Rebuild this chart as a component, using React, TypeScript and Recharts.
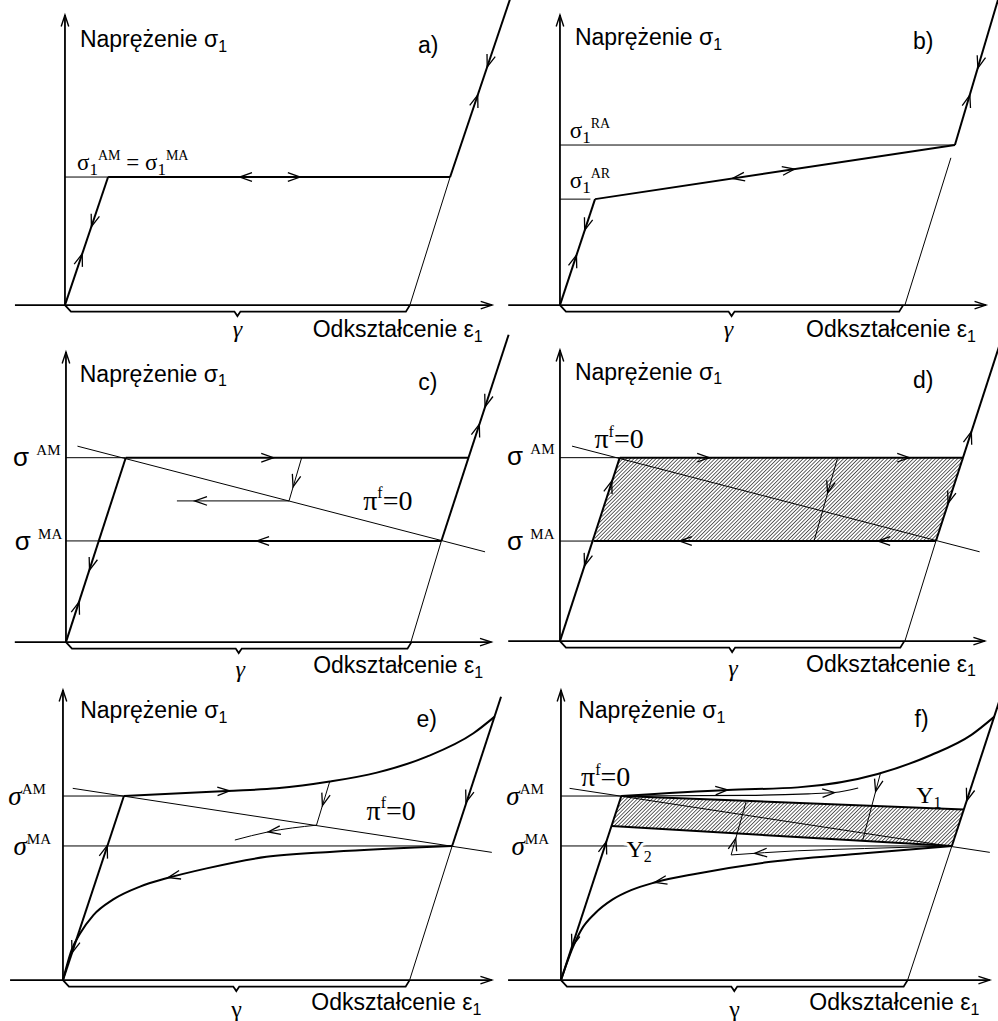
import React from "react";
import { ComposedChart, XAxis, YAxis, Line, Area, ReferenceLine, ReferenceDot } from "recharts";

// Strain on x (%, gamma = 6), stress on y (arbitrary units). Segments are [x0, y0, x1, y1].
type Seg = [number, number, number, number];
type Pt = { x: number; y: number };
type Part = { t: string; sub?: boolean; sup?: boolean; size?: number; font?: "sans" | "serif"; upright?: boolean };
type Label = {
  x: number;
  y: number;
  parts: Part[];
  font: "sans" | "serif";
  size: number;
  italic?: boolean;
  anchor?: "start" | "middle" | "end";
  halo?: boolean;
};

const W = 499;
const H = 340;
const X_DOMAIN: [number, number] = [-1.13, 7.55];
const Y_DOMAIN: [number, number] = [-1.09, 9.53];

const FONTS = {
  sans: '"Liberation Sans", Arial, sans-serif',
  serif: '"Liberation Serif", "Times New Roman", serif',
};

const pts = (arr: number[][]): Pt[] => arr.map(([x, y]) => ({ x, y }));

// ---- a) ----
const aAxes: Seg[] = [[-0.87, 0, 7.43, 0], [0, 0, 0, 9.06]];
const aThick: Seg[] = [[0, 0, 0.75, 4], [0.75, 4, 6.7, 4], [6.7, 4, 7.75, 9.6]];
const aThin: Seg[] = [[0, 4, 0.75, 4], [6.0, 0, 6.7, 4]];
const aArrows: Seg[] = [
  [0, 0, 0.3, 1.6], [0.75, 4, 0.46, 2.45],
  [6.7, 4, 3.04, 4], [0.75, 4, 4.09, 4],
  [6.7, 4, 7.18, 6.56], [7.75, 9.6, 7.345, 7.44],
];

// ---- b) ----
const bAxes: Seg[] = [[-0.9, 0, 7.41, 0], [0, 0, 0, 9.06]];
const bThick: Seg[] = [[0, 0, 0.61, 3.31], [0.61, 3.31, 6.87, 5.0], [6.87, 5.0, 7.63, 9.6]];
const bThin: Seg[] = [[0, 5.0, 6.87, 5.0], [0, 3.31, 0.53, 3.31], [6.0, 0, 6.8, 4.6]];
const bArrows: Seg[] = [
  [0, 0, 0.287, 1.56], [0.61, 3.31, 0.43, 2.34],
  [6.87, 5.0, 3.0, 3.955], [0.61, 3.31, 4.08, 4.247],
  [6.87, 5.0, 7.13, 6.56], [7.63, 9.6, 7.27, 7.4],
];

// ---- c) ----
const cAxes: Seg[] = [[-0.89, 0, 7.4, 0], [0, 0, 0, 9.06]];
const cThick: Seg[] = [[0, 0, 1.04, 5.76], [1.04, 5.76, 7.0, 5.76], [0.574, 3.16, 6.53, 3.16], [6.53, 3.16, 7.7, 9.6]];
const cThin: Seg[] = [
  [0, 5.76, 1.04, 5.76], [0, 3.16, 0.574, 3.16], [6.0, 0, 6.53, 3.16],
  [0.2, 6.12, 7.29, 2.82], [4.1, 5.76, 3.88, 4.41], [3.88, 4.41, 1.93, 4.41],
];
const cArrows: Seg[] = [
  [1.04, 5.76, 3.61, 5.76], [6.53, 3.16, 3.32, 3.16],
  [4.1, 5.76, 3.95, 4.85], [3.88, 4.41, 2.24, 4.41],
  [0, 0, 0.23, 1.26], [1.04, 5.76, 0.41, 2.25],
  [6.53, 3.16, 7.19, 6.8], [7.7, 9.6, 7.29, 7.35],
];

// ---- d) ----
const dAxes: Seg[] = [[-0.9, 0, 7.39, 0], [0, 0, 0, 9.09]];
const dThick: Seg[] = [[0, 0, 1.04, 5.73], [1.04, 5.73, 7.01, 5.73], [0.59, 3.125, 6.54, 3.125], [6.54, 3.125, 7.71, 9.6]];
const dThin: Seg[] = [
  [0, 5.73, 1.04, 5.73], [0, 3.125, 0.59, 3.125], [6.0, 0, 6.54, 3.125],
  [0.21, 6.09, 7.3, 2.79], [4.83, 5.73, 4.42, 3.125],
];
const dHatch = pts([[0.59, 3.125], [1.04, 5.73], [7.01, 5.73], [6.54, 3.125]]);
const dArrows: Seg[] = [
  [1.04, 5.73, 2.6, 5.73], [1.04, 5.73, 6.08, 5.73],
  [6.54, 3.125, 2.08, 3.125], [6.54, 3.125, 5.53, 3.125],
  [4.83, 5.73, 4.655, 4.62],
  [0, 0, 0.9, 5.0], [1.04, 5.73, 0.427, 2.35],
  [6.54, 3.125, 7.156, 6.54], [7.71, 9.6, 6.75, 4.3],
];

// ---- e) ----
const eAxes: Seg[] = [[-0.92, 0, 7.46, 0], [0, 0, 0, 9.06]];
const eThick: Seg[] = [[0, 0, 1.06, 5.75], [6.77, 4.19, 7.62, 8.85]];
const eThin: Seg[] = [
  [0, 5.75, 1.06, 5.75], [0, 4.19, 6.77, 4.19], [6.03, 0, 6.77, 4.19],
  [0.17, 5.99, 7.46, 3.99], [4.64, 6.2, 4.41, 4.84],
];
const eUpper = pts([[1.06, 5.75], [2.85, 5.91], [3.72, 5.99], [4.64, 6.2], [5.46, 6.48], [6.33, 6.98], [7.14, 7.71], [7.51, 8.23]]);
const eLower = pts([[0, 0], [0.15, 0.94], [0.3, 1.46], [0.53, 2.03], [0.875, 2.52], [1.34, 2.92], [1.8, 3.18], [2.5, 3.49], [3.54, 3.85], [4.7, 4.01], [6.77, 4.19]]);
const eReturn = pts([[2.99, 4.375], [3.57, 4.63], [4.41, 4.84]]);
const eArrows: Seg[] = [
  [2.3, 5.87, 2.9, 5.91], [7.62, 8.85, 7.01, 5.55], [2.5, 3.49, 1.83, 3.2],
  [0, 0, 0.77, 4.2], [1.06, 5.75, 0.157, 0.85],
  [4.64, 6.2, 4.513, 5.45], [4.41, 4.84, 3.57, 4.63],
];

// ---- f) ----
const fAxes: Seg[] = [[-0.92, 0, 7.46, 0], [0, 0, 0, 9.06]];
const fThick: Seg[] = [[0, 0, 1.05, 5.75], [6.8, 4.19, 7.64, 8.8], [1.05, 5.75, 7.01, 5.33], [0.88, 4.81, 6.8, 4.19]];
const fThin: Seg[] = [
  [0, 5.75, 1.05, 5.75], [0, 4.19, 6.8, 4.19], [6.03, 0, 6.8, 4.19],
  [0.15, 5.99, 7.46, 3.99], [5.56, 6.48, 5.25, 4.375], [2.96, 3.91, 3.22, 5.57],
];
const fHatch = pts([[0.88, 4.81], [1.05, 5.75], [7.01, 5.33], [6.8, 4.19]]);
const fUpper = pts([[1.05, 5.75], [2.9, 5.94], [4.12, 6.02], [5.51, 6.44], [6.44, 7.03], [7.14, 7.66], [7.54, 8.23]]);
const fLower = pts([[0, 0], [0.21, 1.04], [0.35, 1.56], [0.59, 2.08], [0.9, 2.52], [1.22, 2.81], [1.63, 3.05], [2.38, 3.33], [3.54, 3.67], [5.28, 3.96], [6.8, 4.19]]);
const fUpperThin = pts([[1.05, 5.75], [3.25, 5.77], [4.3, 5.82], [4.76, 5.86], [5.17, 6.0]]);
const fReturn = pts([[2.96, 3.91], [4.12, 4.04], [5.28, 4.11], [6.8, 4.19]]);
const fArrows: Seg[] = [
  [2.3, 5.88, 2.9, 5.94], [4.3, 5.82, 4.76, 5.86],
  [5.56, 6.48, 5.473, 5.89], [2.96, 3.91, 3.04, 4.43],
  [4.12, 4.04, 3.37, 3.96], [2.38, 3.33, 1.63, 3.05],
  [7.64, 8.8, 7.058, 5.6], [0, 0, 0.79, 4.33], [1.05, 5.75, 0.19, 1.04],
];

// ---- text ----
const nap = (x: number, y: number): Label => ({
  x, y, font: "sans", size: 23, parts: [{ t: "Naprężenie σ" }, { t: "1", sub: true, size: 16 }],
});
const odk = (x: number, y: number): Label => ({
  x, y, font: "sans", size: 23, parts: [{ t: "Odkształcenie ε" }, { t: "1", sub: true, size: 16 }],
});
const tag = (t: string, x: number, y: number): Label => ({ x, y, font: "sans", size: 23, parts: [{ t }] });
const gam = (x: number, y: number, italic: boolean): Label => ({
  x, y, font: "serif", size: 24, italic, anchor: "middle", parts: [{ t: "γ" }],
});
const sig1 = (x: number, y: number, sup: string): Label => ({
  x, y, font: "serif", size: 23,
  parts: [{ t: "σ" }, { t: "1", sub: true, size: 17 }, { t: sup, sup: true, size: 14 }],
});
const sigSans = (x: number, y: number, sup: string): Label => ({
  x, y, font: "sans", size: 26, parts: [{ t: "σ " }, { t: sup, sup: true, size: 15, font: "serif" }],
});
const sigItal = (x: number, y: number, sup: string): Label => ({
  x, y, font: "serif", size: 27, italic: true, parts: [{ t: "σ" }, { t: sup, sup: true, size: 15, upright: true }],
});
const piZero = (x: number, y: number): Label => ({
  x, y, font: "serif", size: 28, parts: [{ t: "π" }, { t: "f", sup: true, size: 16 }, { t: "=0" }],
});
const yLab = (x: number, y: number, n: string, halo = false): Label => ({
  x, y, font: "serif", size: 24, halo, parts: [{ t: "Y" }, { t: n, sub: true, size: 16 }],
});

const aLabels: Label[] = [
  nap(0.26, 8.06), tag("a)", 6.14, 7.88), odk(4.31, -1.0), gam(3.0, -1.0, true),
  {
    x: 0.21, y: 4.22, font: "serif", size: 23,
    parts: [
      { t: "σ" }, { t: "1", sub: true, size: 17 }, { t: "AM", sup: true, size: 14 },
      { t: " = " }, { t: "σ" }, { t: "1", sub: true, size: 17 }, { t: "MA", sup: true, size: 14 },
    ],
  },
];
const bLabels: Label[] = [
  nap(0.26, 8.12), tag("b)", 6.14, 8.0), odk(4.28, -1.0), gam(2.93, -1.0, true),
  sig1(0.17, 5.22, "RA"), sig1(0.17, 3.66, "AR"),
];
const cLabels: Label[] = [
  nap(0.24, 8.13), tag("c)", 6.13, 7.88), odk(4.3, -0.98), gam(3.03, -1.08, true),
  sigSans(-0.92, 5.5, "AM"), sigSans(-0.89, 2.87, "MA"), piZero(5.17, 4.13),
];
const dLabels: Label[] = [
  nap(0.26, 8.16), tag("d)", 6.14, 7.9), odk(4.28, -0.96), gam(3.01, -1.1, true),
  sigSans(-0.92, 5.5, "AM"), sigSans(-0.92, 2.84, "MA"), piZero(0.6, 6.02),
];
const eLabels: Label[] = [
  nap(0.3, 8.18), tag("e)", 6.15, 7.92), odk(4.32, -0.94), gam(3.02, -1.15, false),
  sigItal(-0.95, 5.47, "AM"), sigItal(-0.86, 3.9, "MA"), piZero(5.28, 5.0),
];
const fLabels: Label[] = [
  nap(0.3, 8.18), tag("f)", 6.15, 7.92), odk(4.32, -0.94), gam(3.02, -1.15, false),
  sigItal(-0.95, 5.47, "AM"), sigItal(-0.86, 3.9, "MA"), piZero(0.35, 6.05),
  yLab(6.18, 5.52, "1"), yLab(1.14, 3.85, "2", true),
];

// ---- drawing helpers ----
const seg = (s: Seg) => [{ x: s[0], y: s[1] }, { x: s[2], y: s[3] }];

// closed polygon -> rows of [low, high] for a ranged Area
const band = (poly: Pt[]) => {
  const xs = Array.from(new Set(poly.map((p) => p.x))).sort((a, b) => a - b);
  return xs.map((x) => {
    const ys: number[] = [];
    poly.forEach((p, i) => {
      const q = poly[(i + 1) % poly.length];
      const lo = Math.min(p.x, q.x);
      const hi = Math.max(p.x, q.x);
      if (hi > lo && x >= lo && x <= hi) ys.push(p.y + ((q.y - p.y) * (x - p.x)) / (q.x - p.x));
    });
    return { x, band: [Math.min(...ys), Math.max(...ys)] };
  });
};

const head = (x1: number, y1: number, x2: number, y2: number, len: number, ang: number) => {
  const l = Math.hypot(x2 - x1, y2 - y1) || 1;
  const ux = (x2 - x1) / l;
  const uy = (y2 - y1) / l;
  const c = Math.cos(ang);
  const s = Math.sin(ang);
  const ax = x2 - len * (ux * c - uy * s);
  const ay = y2 - len * (ux * s + uy * c);
  const bx = x2 - len * (ux * c + uy * s);
  const by = y2 - len * (-ux * s + uy * c);
  return `M${ax},${ay}L${x2},${y2}L${bx},${by}`;
};

const lineShape = (w: number) => (p: any) => (
  <line x1={p.x1} y1={p.y1} x2={p.x2} y2={p.y2} stroke="#000" strokeWidth={w} />
);

const axisShape = (p: any) => (
  <g>
    <line x1={p.x1} y1={p.y1} x2={p.x2} y2={p.y2} stroke="#000" strokeWidth={1.8} />
    <path d={head(p.x1, p.y1, p.x2, p.y2, 12, 0.32)} fill="none" stroke="#000" strokeWidth={1.4} />
  </g>
);

const arrowShape = (p: any) => (
  <path d={head(p.x1, p.y1, p.x2, p.y2, 13, 0.34)} fill="none" stroke="#000" strokeWidth={1.3} />
);

const braceShape = (p: any) => {
  const { x1, y1, x2 } = p;
  const mid = (x1 + x2) / 2;
  const d = `M${x1},${y1}L${x1 + 6},${y1 + 6.5}L${mid - 3},${y1 + 6.5}L${mid},${y1 + 11}L${mid + 3},${y1 + 6.5}L${x2 - 4},${y1 + 6.5}L${x2},${y1}`;
  return <path d={d} fill="none" stroke="#000" strokeWidth={1.8} />;
};

const RichText = ({ cx, cy, lab }: { cx: number; cy: number; lab: Label }) => {
  let shift = 0;
  const spans = lab.parts.map((p, i) => {
    const target = p.sub ? lab.size * 0.2 : p.sup ? -lab.size * 0.42 : 0;
    const dy = target - shift;
    shift = target;
    return (
      <tspan
        key={i}
        dy={dy}
        fontSize={p.size ?? lab.size}
        fontFamily={p.font ? FONTS[p.font] : undefined}
        fontStyle={p.upright ? "normal" : undefined}
      >
        {p.t}
      </tspan>
    );
  });
  return (
    <text
      x={cx}
      y={cy}
      fontFamily={FONTS[lab.font]}
      fontSize={lab.size}
      fontStyle={lab.italic ? "italic" : "normal"}
      textAnchor={lab.anchor ?? "start"}
      fill="#000"
      stroke={lab.halo ? "#fff" : "none"}
      strokeWidth={lab.halo ? 6 : 0}
      paintOrder="stroke"
      style={{ whiteSpace: "pre" }}
    >
      {spans}
    </text>
  );
};

type Curve = { data: Pt[]; width: number };
type PanelSpec = {
  left: number;
  top: number;
  axes: Seg[];
  thick: Seg[];
  thin: Seg[];
  arrows: Seg[];
  gamma: number;
  labels: Label[];
  curves?: Curve[];
  hatch?: Pt[];
};

const panels: PanelSpec[] = [
  { left: 0, top: 0, axes: aAxes, thick: aThick, thin: aThin, arrows: aArrows, gamma: 6.0, labels: aLabels },
  { left: 495, top: 0, axes: bAxes, thick: bThick, thin: bThin, arrows: bArrows, gamma: 5.97, labels: bLabels },
  { left: 1, top: 337, axes: cAxes, thick: cThick, thin: cThin, arrows: cArrows, gamma: 6.01, labels: cLabels },
  { left: 495, top: 336, axes: dAxes, thick: dThick, thin: dThin, arrows: dArrows, gamma: 5.99, labels: dLabels, hatch: dHatch },
  {
    left: -2, top: 675, axes: eAxes, thick: eThick, thin: eThin, arrows: eArrows, gamma: 6.03, labels: eLabels,
    curves: [{ data: eUpper, width: 2 }, { data: eLower, width: 2 }, { data: eReturn, width: 1 }],
  },
  {
    left: 496, top: 675, axes: fAxes, thick: fThick, thin: fThin, arrows: fArrows, gamma: 6.03, labels: fLabels, hatch: fHatch,
    curves: [{ data: fUpper, width: 2 }, { data: fLower, width: 2 }, { data: fUpperThin, width: 1.2 }, { data: fReturn, width: 1 }],
  },
];

const Panel = ({ spec }: { spec: PanelSpec }) => (
  <div style={{ position: "absolute", left: spec.left, top: spec.top }}>
    <ComposedChart width={W} height={H} margin={{ top: 0, right: 0, bottom: 0, left: 0 }}>
      <XAxis type="number" dataKey="x" domain={X_DOMAIN} hide allowDataOverflow />
      <YAxis type="number" domain={Y_DOMAIN} hide allowDataOverflow />
      {spec.hatch && (
        <Area
          data={band(spec.hatch)}
          dataKey="band"
          type="linear"
          stroke="none"
          fill="url(#hatch)"
          fillOpacity={1}
          isAnimationActive={false}
        />
      )}
      {(spec.curves ?? []).map((c, i) => (
        <Line
          key={`c${i}`}
          data={c.data}
          dataKey="y"
          type="monotone"
          stroke="#000"
          strokeWidth={c.width}
          dot={false}
          activeDot={false}
          isAnimationActive={false}
        />
      ))}
      {spec.thin.map((s, i) => (
        <ReferenceLine key={`t${i}`} segment={seg(s)} ifOverflow="visible" shape={lineShape(1)} />
      ))}
      {spec.thick.map((s, i) => (
        <ReferenceLine key={`k${i}`} segment={seg(s)} ifOverflow="visible" shape={lineShape(2)} />
      ))}
      {spec.axes.map((s, i) => (
        <ReferenceLine key={`a${i}`} segment={seg(s)} ifOverflow="visible" shape={axisShape} />
      ))}
      {spec.arrows.map((s, i) => (
        <ReferenceLine key={`h${i}`} segment={seg(s)} ifOverflow="visible" shape={arrowShape} />
      ))}
      <ReferenceLine segment={seg([0, 0, spec.gamma, 0])} ifOverflow="visible" shape={braceShape} />
      {spec.labels.map((l, i) => (
        <ReferenceDot
          key={`l${i}`}
          x={l.x}
          y={l.y}
          ifOverflow="visible"
          shape={(p: any) => <RichText cx={p.cx} cy={p.cy} lab={l} />}
        />
      ))}
    </ComposedChart>
  </div>
);

export default function App() {
  return (
    <div style={{ position: "absolute", left: 0, top: 0, width: 998, height: 1021, background: "#fff", overflow: "hidden" }}>
      <style>{".recharts-surface{overflow:visible}"}</style>
      <svg width={0} height={0} style={{ position: "absolute" }}>
        <defs>
          <pattern id="hatch" patternUnits="userSpaceOnUse" width={2.6} height={2.6} patternTransform="rotate(45)">
            <line x1={0} y1={0} x2={0} y2={2.6} stroke="#000" strokeWidth={1.2} />
          </pattern>
        </defs>
      </svg>
      {panels.map((p, i) => (
        <Panel key={i} spec={p} />
      ))}
    </div>
  );
}
